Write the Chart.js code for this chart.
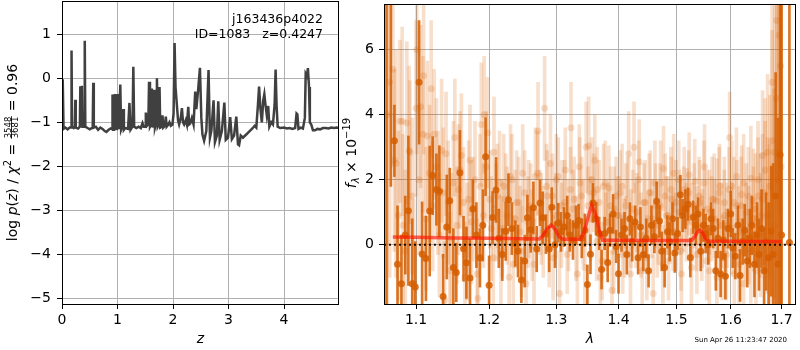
<!DOCTYPE html>
<html>
<head>
<meta charset="utf-8">
<script src="https://cdn.jsdelivr.net/npm/chart.js@4.4.0/dist/chart.umd.min.js"></script>
<style>
  body { margin: 0; background: #fff; }
  #wrap { position: relative; width: 800px; height: 350px; }
  #pz { position: absolute; left: 0; top: 0; }
  #spec { position: absolute; left: 340px; top: 0; }
</style>
</head>
<body>
<div id="wrap">
  <canvas id="pz" width="340" height="350"></canvas>
  <canvas id="spec" width="460" height="350"></canvas>
</div>
<script>
// ---- left panel: log p(z) ----
const zGrid = [
  0.000, 0.008, 0.018, 0.028, 0.060, 0.100, 0.140, 0.163, 0.172, 0.181,
  0.210, 0.232, 0.240, 0.248, 0.290, 0.322, 0.330, 0.345, 0.358, 0.368,
  0.400, 0.410, 0.420, 0.460, 0.500, 0.553, 0.563, 0.573, 0.610, 0.650,
  0.690, 0.730, 0.770, 0.800, 0.840, 0.880, 0.902, 0.910, 0.920, 0.935,
  0.945, 0.960, 0.975, 0.990, 1.000, 1.015, 1.030, 1.050, 1.065, 1.085,
  1.100, 1.115, 1.140, 1.190, 1.215, 1.235, 1.270, 1.285, 1.300, 1.340,
  1.380, 1.420, 1.450, 1.470, 1.500, 1.510, 1.530, 1.555, 1.568, 1.585,
  1.605, 1.618, 1.632, 1.645, 1.660, 1.675, 1.700, 1.710, 1.725, 1.745,
  1.757, 1.770, 1.800, 1.810, 1.825, 1.855, 1.870, 1.885, 1.915, 1.935,
  1.960, 1.990, 2.010, 2.028, 2.045, 2.060, 2.090, 2.110, 2.140, 2.160,
  2.180, 2.200, 2.230, 2.250, 2.275, 2.290, 2.310, 2.340, 2.370, 2.400,
  2.420, 2.450, 2.485, 2.510, 2.530, 2.560, 2.600, 2.640, 2.665, 2.690,
  2.730, 2.755, 2.790, 2.815, 2.840, 2.880, 2.925, 2.950, 2.990, 3.030,
  3.060, 3.100, 3.140, 3.170, 3.190, 3.220, 3.260, 3.300, 3.340, 3.380,
  3.430, 3.470, 3.500, 3.530, 3.550, 3.575, 3.600, 3.625, 3.645, 3.665,
  3.690, 3.715, 3.735, 3.770, 3.800, 3.830, 3.848, 3.865, 3.885, 3.930,
  4.000, 4.050, 4.100, 4.150, 4.200, 4.225, 4.240, 4.260, 4.300, 4.340,
  4.375, 4.390, 4.410, 4.430, 4.450, 4.465, 4.490, 4.520, 4.560, 4.600,
  4.650, 4.700, 4.750, 4.800, 4.850, 4.900, 4.950, 4.990
];
const logPz = [
  -0.62, -1.18, -0.02, -1.15, -1.12, -1.16, -1.12, -1.12, 0.63, -1.10,
  -1.13, -1.10, -0.49, -1.12, -1.14, -1.10, -0.18, -0.55, -0.17, -1.10,
  -1.10, 0.855, -1.10, -1.13, -1.16, -1.12, -0.10, -1.12, -1.10, -1.17,
  -1.12, -1.15, -1.20, -1.22, -1.17, -1.14, -1.15, -0.37, -1.17, -0.36,
  -1.10, -0.36, -1.15, -0.36, -1.10, -0.36, -1.16, -0.14, -1.17, -1.10,
  -0.70, -1.17, -1.13, -1.15, -0.56, -1.17, -1.10, 0.26, -1.10, -1.13,
  -1.10, -1.13, -1.02, -1.10, -1.10, -0.78, -1.08, -1.05, -0.08, -1.10,
  -1.05, -0.23, -1.12, -0.85, -0.26, -1.12, -1.00, 0.00, -1.10, -1.05,
  -0.20, -1.12, -1.10, -0.84, -1.12, -1.08, -0.87, -1.10, -1.05, -1.00,
  -1.08, -1.05, -0.80, 0.80, -0.20, -0.45, -0.95, -1.05, -0.90, -0.68,
  -1.00, -1.05, -0.95, -1.05, -0.65, -1.05, -1.03, -0.90, -1.05, -0.30,
  -0.70, -0.30, 0.24, -0.90, -1.28, -1.42, -1.20, 0.19, -1.35, -1.20,
  -0.50, -1.45, -1.30, -0.52, -1.40, -1.20, -0.55, -1.40, -1.35, -0.88,
  -1.38, -1.30, -0.87, -1.50, -1.52, -1.30, -1.35, -1.30, -1.25, -1.20,
  -1.14, -1.08, -1.12, -0.60, -0.19, -0.70, -1.00, -0.50, -0.36, -0.60,
  -0.85, -0.63, -1.10, -1.00, -1.05, -0.60, 0.20, -0.60, -1.10, -1.13,
  -1.12, -1.14, -1.13, -1.15, -1.13, -0.80, -0.82, -1.15, -1.12, -1.14,
  -0.90, 0.10, 0.05, 0.23, -0.20, -1.00, -1.05, -1.18, -1.18, -1.15,
  -1.16, -1.13, -1.13, -1.14, -1.12, -1.13, -1.12, -1.13
];
const zTicks = [0, 1, 2, 3, 4];
const logPTicks = [-5, -4, -3, -2, -1, 0, 1];

// ---- right panel: spectrum ----
// combined spectrum (dark)
const darkLam = [
  1.062, 1.0675, 1.072, 1.076, 1.081, 1.086, 1.090, 1.095, 1.099, 1.104, 1.108, 1.113, 1.118,
  1.122, 1.127, 1.131, 1.136, 1.141, 1.145, 1.150, 1.154, 1.159, 1.164, 1.168,
  1.173, 1.177, 1.182, 1.187, 1.191, 1.195, 1.200, 1.205, 1.210, 1.214, 1.219,
  1.224, 1.228, 1.233, 1.238, 1.242, 1.247, 1.252, 1.256, 1.261, 1.265, 1.270,
  1.275, 1.279, 1.284, 1.289, 1.293, 1.298, 1.303, 1.307, 1.312, 1.317, 1.321,
  1.326, 1.331, 1.335, 1.340, 1.345, 1.349, 1.354, 1.358, 1.363, 1.368, 1.372,
  1.377, 1.382, 1.386, 1.391, 1.396, 1.400, 1.405, 1.410, 1.414, 1.419, 1.423,
  1.428, 1.433, 1.437, 1.442, 1.447, 1.451, 1.456, 1.461, 1.465, 1.470, 1.474,
  1.479, 1.484, 1.488, 1.493, 1.497, 1.502, 1.507, 1.511, 1.516, 1.521, 1.525,
  1.530, 1.535, 1.539, 1.544, 1.549, 1.553, 1.558, 1.563, 1.567, 1.572, 1.576,
  1.581, 1.586, 1.590, 1.595, 1.600, 1.604, 1.609, 1.614, 1.618, 1.623, 1.627,
  1.632, 1.637, 1.641, 1.646, 1.651, 1.655, 1.660, 1.665, 1.669, 1.674, 1.679,
  1.683, 1.688, 1.693, 1.697, 1.700, 1.716
];
const darkFlux = [
  8.0, 9.0, 3.2, -0.6, -1.2, 0.3, 1.05, -1.2, -1.3, 5.0, -0.28, -0.42, 1.04,
  2.13, 1.7, 1.65, -1.59, 0.55, 1.36, -0.7, -0.85, 2.22, -0.12, -0.55,
  -1.02, 1.1, 0.3, -0.4, 0.6, 2.71, -1.24, 0.84, 1.69, 0.2, -0.3,
  0.42, 1.39, 0.5, 0.04, -0.19, -1.08, -0.5, 0.83, 0.47, 1.14, -0.13,
  1.29, 0.83, 0.33, -0.13, 1.16, 0.0, 0.68, 0.4, 0.55, 0.9, 0.3,
  0.15, 0.6, 0.75, 0.2, 0.45, -1.22, -0.29, 1.29, 0.8, 0.35, -0.76,
  0.35, -0.54, 0.45, 0.95, -0.05, -0.89, 0.3, 0.5, -0.3, 0.8, 0.1,
  0.7, -0.4, 0.55, -0.3, 0.2, -0.8, 0.6, 0.25, 1.34, 0.73, -0.2,
  -0.7, 0.4, 0.1, 0.8, -0.25, 0.35, 1.54, 0.9, 1.1, 1.25, -0.39,
  0.85, 0.6, 0.95, -0.2, 0.6, 0.35, 0.0, 0.8, 0.5, -0.8, 0.2,
  -0.9, 0.15, -0.97, 0.5, 0.95, -0.1, -0.35, 0.6, -0.94, 0.1, 0.45,
  -0.5, 0.2, 0.6, -0.6, 0.3, -0.3, 0.5, -0.8, 0.1, -0.4, 0.42,
  -0.3, 1.5, -0.6, 2.77, 0.3, 0.07
];
const darkErr = [
  12, 7.2, 1.1, 1.8, 1.5, 1.2, 2.3, 2.0, 1.4, 1.9, 1.6, 1.3, 2.0,
  1.2, 1.1, 1.4, 1.3, 1.6, 1.0, 1.2, 0.9, 1.3, 1.0, 1.1,
  1.2, 0.9, 1.0, 0.9, 1.1, 1.2, 0.9, 0.8, 1.0, 0.9, 0.8,
  0.9, 0.8, 0.8, 0.7, 0.8, 0.7, 0.8, 0.7, 0.7, 0.8, 0.7,
  0.7, 0.8, 0.6, 0.7, 0.6, 0.7, 0.6, 0.6, 0.6, 0.6, 0.5,
  0.6, 0.6, 0.5, 0.6, 0.5, 0.6, 0.6, 0.6, 0.5, 0.5, 0.6,
  0.5, 0.6, 0.5, 0.6, 0.5, 0.6, 0.5, 0.5, 0.6, 0.5, 0.6,
  0.5, 0.5, 0.6, 0.5, 0.6, 0.5, 0.6, 0.5, 0.6, 0.5, 0.6,
  0.6, 0.5, 0.6, 0.5, 0.6, 0.5, 0.6, 0.5, 0.6, 0.5, 0.6,
  0.5, 0.6, 0.5, 0.6, 0.5, 0.6, 0.6, 0.5, 0.6, 0.6, 0.6,
  0.7, 0.6, 0.7, 0.6, 0.7, 0.6, 0.7, 0.6, 0.8, 0.7, 0.8,
  0.8, 0.9, 0.9, 1.0, 1.0, 1.1, 1.2, 1.3, 1.5, 1.7, 2.0,
  2.8, 3.8, 4.5, 9, 12, 15
];

// first individual beam (light)
const lightLam = [
  1.063, 1.066, 1.070, 1.074, 1.079, 1.083, 1.088, 1.092, 1.097, 1.101, 1.106, 1.110, 1.115,
  1.120, 1.124, 1.129, 1.134, 1.138, 1.143, 1.147, 1.152, 1.157, 1.161, 1.166,
  1.171, 1.175, 1.180, 1.184, 1.189, 1.193, 1.198, 1.203, 1.207, 1.212, 1.217,
  1.221, 1.226, 1.231, 1.235, 1.240, 1.245, 1.249, 1.254, 1.258, 1.263, 1.268,
  1.272, 1.277, 1.282, 1.286, 1.291, 1.295, 1.300, 1.305, 1.309, 1.314, 1.319,
  1.323, 1.328, 1.333, 1.337, 1.342, 1.347, 1.351, 1.356, 1.361, 1.365, 1.370,
  1.375, 1.379, 1.384, 1.389, 1.393, 1.398, 1.403, 1.407, 1.412, 1.417, 1.421,
  1.426, 1.431, 1.435, 1.440, 1.445, 1.449, 1.454, 1.459, 1.463, 1.468, 1.472,
  1.477, 1.482, 1.486, 1.491, 1.495, 1.500, 1.505, 1.509, 1.514, 1.519, 1.523,
  1.528, 1.533, 1.537, 1.542, 1.547, 1.551, 1.556, 1.560, 1.565, 1.570, 1.574,
  1.579, 1.584, 1.588, 1.593, 1.598, 1.602, 1.607, 1.612, 1.616, 1.621, 1.625,
  1.630, 1.635, 1.639, 1.644, 1.649, 1.653, 1.658, 1.662, 1.667, 1.672, 1.676,
  1.681, 1.686, 1.690, 1.695, 1.699
];
const lightFlux = [
  4.0, 5.0, 5.4, 2.5, 3.8, 0.6, 3.75, 2.85, -1.2, 6.0, 4.25, 5.2, 3.35,
  4.8, 3.4, 1.6, 2.9, -1.7, 1.3, 0.2, 3.3, 1.7, 2.75, -1.0,
  1.4, 0.7, 2.0, -1.65, 3.7, 4.0, 3.45, 0.5, 2.85, 1.5, -0.2,
  1.8, 0.9, 2.1, -0.6, 1.3, 0.4, 2.2, -1.2, 1.1, 0.3, 2.1,
  3.5, 0.8, 4.2, 1.5, 2.5, -0.4, 2.0, -1.5, 1.2, 2.3, 0.6,
  3.6, 1.4, -0.9, 1.9, 0.7, 3.0, 3.05, 2.0, 2.6, 1.7, -1.0,
  1.8, 0.4, 1.75, -1.4, 1.1, 0.9, 1.6, -0.3, 1.2, 2.8, 0.5,
  3.0, 1.0, 2.55, -0.8, 1.3, 0.3, 1.6, -1.5, 1.2, 0.6, 1.9,
  2.35, 0.9, -0.5, 1.4, 2.2, 0.4, 1.0, -0.9, 1.7, 1.15, 2.15,
  0.7, 1.95, -0.3, 1.3, 0.5, 2.4, 1.1, -0.8, 1.4, 0.8, 1.35,
  1.8, -0.4, 1.3, 0.6, 3.3, 1.8, -0.9, 1.2, 0.4, 1.55, -1.2,
  1.0, 0.3, 2.05, 1.35, -0.8, 1.5, 0.9, 2.75, 1.6, 2.85, 0.3,
  5.0, 2.85, 6.9, 6.45, 2.4
];
const lightErr = [
  8, 6, 3.0, 3.5, 2.5, 2.8, 2.5, 2.2, 2.6, 3.2, 2.5, 2.4, 2.3,
  2.1, 2.0, 1.9, 2.2, 1.8, 1.9, 2.0, 1.8, 2.0, 1.9, 1.7,
  1.8, 1.9, 1.8, 1.6, 1.9, 1.8, 1.7, 1.6, 1.7, 1.6, 1.7,
  1.6, 1.5, 1.6, 1.5, 1.6, 1.4, 1.5, 1.4, 1.5, 1.4, 1.5,
  1.5, 1.4, 1.6, 1.4, 1.5, 1.3, 1.4, 1.3, 1.4, 1.3, 1.4,
  1.4, 1.3, 1.3, 1.4, 1.3, 1.4, 1.5, 1.3, 1.4, 1.3, 1.3,
  1.3, 1.2, 1.3, 1.2, 1.3, 1.2, 1.3, 1.2, 1.3, 1.3, 1.2,
  1.4, 1.2, 1.3, 1.2, 1.3, 1.2, 1.3, 1.2, 1.3, 1.2, 1.3,
  1.3, 1.2, 1.2, 1.3, 1.2, 1.2, 1.3, 1.2, 1.3, 1.2, 1.3,
  1.2, 1.3, 1.2, 1.3, 1.2, 1.3, 1.2, 1.3, 1.3, 1.2, 1.3,
  1.3, 1.3, 1.4, 1.3, 1.4, 1.4, 1.3, 1.4, 1.4, 1.5, 1.4,
  1.5, 1.5, 1.6, 1.6, 1.7, 1.8, 1.9, 2.0, 2.2, 2.4, 2.8,
  3.5, 4.5, 5.0, 5.5, 6.0
];

// second individual beam (light)
const light2Lam = [
  1.072, 1.077, 1.082, 1.086, 1.091, 1.095, 1.100, 1.104, 1.109, 1.113,
  1.118, 1.122, 1.127, 1.131, 1.136, 1.140, 1.145, 1.150, 1.155, 1.159,
  1.164, 1.169, 1.173, 1.178, 1.183, 1.187, 1.192, 1.196, 1.201, 1.206,
  1.210, 1.215, 1.219, 1.224, 1.229, 1.233, 1.238, 1.243, 1.247, 1.252,
  1.257, 1.261, 1.266, 1.271, 1.275, 1.280, 1.285, 1.289, 1.294, 1.299,
  1.303, 1.308, 1.313, 1.317, 1.322, 1.326, 1.331, 1.336, 1.340, 1.345,
  1.350, 1.354, 1.359, 1.364, 1.368, 1.373, 1.378, 1.382, 1.387, 1.392,
  1.396, 1.401, 1.406, 1.410, 1.415, 1.420, 1.424, 1.429, 1.434, 1.438,
  1.443, 1.448, 1.452, 1.457, 1.462, 1.466, 1.471, 1.476, 1.480, 1.485,
  1.490, 1.494, 1.499, 1.504, 1.508, 1.513, 1.518, 1.522, 1.527, 1.532,
  1.536, 1.541, 1.546, 1.550, 1.555, 1.560, 1.564, 1.569, 1.574, 1.578,
  1.583, 1.588, 1.592, 1.597, 1.602, 1.606, 1.611, 1.616, 1.620, 1.625,
  1.630, 1.634, 1.639, 1.644, 1.648, 1.653, 1.658, 1.662, 1.667, 1.672,
  1.676, 1.681, 1.685, 1.690, 1.694, 1.698
];
const light2Flux = [
  2.6, 0.9, 3.8, -0.2, 2.9, 1.5, 4.2, 2.0, 3.4, 0.8,
  2.2, 1.2, 2.4, 0.3, 1.6, 2.8, -0.8, 1.9, 0.6, 2.3,
  1.3, 0.1, 2.6, 1.1, -0.9, 1.8, 0.9, 2.4, 1.4, -0.4,
  1.0, 1.9, 0.5, 1.4, -1.0, 2.0, 0.8, 1.3, -0.2, 1.6,
  0.7, 1.2, -0.6, 2.2, 1.0, 0.4, 1.8, -0.1, 1.5, 0.9,
  2.1, 0.6, 1.3, -0.3, 1.7, 1.1, 0.2, 2.4, 1.5, -0.7,
  1.2, 0.8, 1.6, 0.1, 1.3, -0.5, 1.9, 0.7, 1.2, -0.2,
  1.5, 0.9, 1.8, 0.2, 1.4, -0.9, 1.1, 0.6, 2.0, 0.3,
  1.3, -0.4, 1.6, 0.8, 1.9, 0.2, 1.2, -0.6, 1.5, 0.9,
  1.7, 0.4, 1.3, 2.0, -0.2, 1.1, 0.7, 1.6, -0.7, 1.2,
  0.5, 1.5, 0.2, 1.9, -0.5, 1.0, 0.8, 1.4, -1.0, 1.6,
  0.6, 0.9, -0.3, 1.7, 0.5, 1.3, 2.1, -0.6, 1.2, 1.9,
  0.4, 1.5, -0.2, 0.8, 1.1, 2.0, 0.3, 1.4, 2.3, 0.9,
  1.8, 3.2, 0.6, 4.5, 2.0, 5.5
];
const light2Err = [
  2.8, 2.6, 2.9, 2.5, 2.6, 2.4, 2.7, 2.3, 2.4, 2.2,
  2.1, 2.0, 2.1, 1.9, 2.0, 1.9, 1.8, 1.9, 1.8, 1.8,
  1.7, 1.8, 1.7, 1.6, 1.7, 1.6, 1.6, 1.7, 1.5, 1.6,
  1.5, 1.6, 1.5, 1.4, 1.5, 1.4, 1.5, 1.4, 1.4, 1.3,
  1.4, 1.3, 1.4, 1.3, 1.3, 1.4, 1.3, 1.2, 1.3, 1.3,
  1.2, 1.3, 1.3, 1.2, 1.3, 1.2, 1.3, 1.3, 1.2, 1.3,
  1.2, 1.3, 1.2, 1.2, 1.3, 1.2, 1.3, 1.2, 1.2, 1.3,
  1.2, 1.2, 1.3, 1.2, 1.3, 1.2, 1.2, 1.3, 1.2, 1.3,
  1.2, 1.3, 1.2, 1.2, 1.3, 1.2, 1.3, 1.2, 1.3, 1.2,
  1.3, 1.2, 1.3, 1.2, 1.2, 1.3, 1.2, 1.3, 1.2, 1.3,
  1.3, 1.2, 1.3, 1.3, 1.2, 1.3, 1.3, 1.4, 1.3, 1.4,
  1.3, 1.4, 1.4, 1.3, 1.4, 1.4, 1.5, 1.4, 1.5, 1.5,
  1.5, 1.5, 1.6, 1.6, 1.7, 1.8, 1.9, 2.0, 2.2, 2.4,
  2.8, 3.4, 4.2, 5.0, 5.5, 6.0
];

// best-fit model
const modelLam = [
  1.070, 1.100, 1.150, 1.200, 1.250, 1.274, 1.280, 1.286, 1.292, 1.298, 1.304, 1.310,
  1.338, 1.344, 1.350, 1.356, 1.362, 1.368, 1.374, 1.400, 1.450, 1.500,
  1.527, 1.533, 1.538, 1.543, 1.548, 1.553, 1.558, 1.600, 1.650, 1.700
];
const modelFlux = [
  0.24, 0.23, 0.21, 0.20, 0.19, 0.18, 0.30, 0.50, 0.61, 0.48, 0.26, 0.17,
  0.17, 0.40, 0.85, 1.22, 0.95, 0.45, 0.14, 0.14, 0.13, 0.13,
  0.13, 0.25, 0.40, 0.45, 0.35, 0.18, 0.11, 0.11, 0.10, 0.10
];
const lamTicks = [1.1, 1.2, 1.3, 1.4, 1.5, 1.6, 1.7];
const fluxTicks = [0, 2, 4, 6];
const lamRange = [1.0588, 1.7295];
const fluxRange = [-1.82, 7.41];
const zRange = [0, 4.99];
const logPRange = [-5.13, 1.757];

Chart.defaults.font.family = 'DejaVu Sans';
Chart.defaults.color = '#000';

const FONT = 'DejaVu Sans';
const G141 = 'rgba(213, 94, 0, 0.85)';
const G141_LIGHT = 'rgba(213, 94, 0, 0.2)';
const minus = v => String(v).replace('-', '\u2212');

// black frame round the axes, like matplotlib spines
const frame = {
  id: 'frame',
  afterDraw(chart) {
    const { ctx, chartArea: a } = chart;
    const x0 = Math.floor(a.left) + 0.5, y0 = Math.floor(a.top) + 0.5;
    const x1 = Math.ceil(a.right) - 0.5, y1 = Math.floor(a.bottom) + 0.5;
    ctx.save();
    ctx.strokeStyle = '#000';
    ctx.lineWidth = 1;
    ctx.strokeRect(x0, y0, x1 - x0, y1 - y0);
    ctx.restore();
  }
};

// draw a rotated label from pieces (sub/superscripts, a stacked fraction)
function drawVerticalLabel(ctx, cx, cy, parts) {
  ctx.save();
  ctx.translate(cx, cy);
  ctx.rotate(-Math.PI / 2);
  let total = 0;
  parts.forEach(p => {
    ctx.font = p.font;
    if (p.num) {
      p.w = Math.max(ctx.measureText(p.num).width, ctx.measureText(p.den).width) + 2;
    } else {
      p.w = ctx.measureText(p.text).width;
    }
    total += p.w;
  });
  let x = -total / 2;
  const base = 5;
  ctx.fillStyle = '#000';
  ctx.textBaseline = 'alphabetic';
  parts.forEach(p => {
    ctx.font = p.font;
    if (p.num) {
      ctx.textAlign = 'center';
      ctx.fillText(p.num, x + p.w / 2, base - 6.5);
      ctx.fillText(p.den, x + p.w / 2, base + 0.5);
      ctx.fillRect(x + 0.5, base - 5.8, p.w - 1, 0.8);
      ctx.textAlign = 'left';
    } else {
      ctx.textAlign = 'left';
      ctx.fillText(p.text, x, base + (p.shift || 0));
    }
    x += p.w;
  });
  ctx.restore();
}

const N14 = `14px "${FONT}"`;
const I14 = `italic 14px "${FONT}"`;
const S10 = `10px "${FONT}"`;
const I10 = `italic 10px "${FONT}"`;

const leftDecor = {
  id: 'leftDecor',
  afterDraw(chart) {
    const ctx = chart.ctx;
    drawVerticalLabel(ctx, 12, 152.5, [
      { text: 'log ', font: N14 },
      { text: 'p', font: I14 },
      { text: '(', font: N14 },
      { text: 'z', font: I14 },
      { text: ') / ', font: N14 },
      { text: '\u03c7', font: I14 },
      { text: '2', font: S10, shift: -6 },
      { text: ' = ', font: N14 },
      { num: '3548', den: '3681', font: `8.5px "${FONT}"` },
      { text: ' = 0.96', font: N14 }
    ]);
    ctx.save();
    ctx.font = `12.5px "${FONT}"`;
    ctx.fillStyle = '#000';
    ctx.textAlign = 'right';
    ctx.textBaseline = 'middle';
    ctx.fillText('j163436p4022', 323, 20);
    ctx.fillText('ID=1083   z=0.4247', 323, 34.5);
    ctx.restore();
  }
};

const rightDecor = {
  id: 'rightDecor',
  afterDraw(chart) {
    const ctx = chart.ctx;
    drawVerticalLabel(ctx, 11, 153, [
      { text: 'f', font: I14 },
      { text: '\u03bb', font: I10, shift: 3 },
      { text: ' \u00d7 10', font: N14 },
      { text: '\u221219', font: S10, shift: -6 }
    ]);
    ctx.save();
    ctx.font = `7px "${FONT}"`;
    ctx.fillStyle = '#000';
    ctx.textAlign = 'right';
    ctx.textBaseline = 'middle';
    ctx.fillText('Sun Apr 26 11:23:47 2020', 447, 340);
    ctx.restore();
  }
};

const gridOpts = { color: '#b0b0b0', lineWidth: 1, tickColor: '#000', tickLength: 5, tickWidth: 1 };
const tickFont = { family: FONT, size: 14 };

const errBars = (lam, flux, err) => lam.map((l, i) => ({ x: l, y: [flux[i] - err[i], flux[i] + err[i]] }));
const pts = (xs, ys) => xs.map((x, i) => ({ x, y: ys[i] }));

// left chart
new Chart(document.getElementById('pz'), {
  type: 'scatter',
  data: {
    datasets: [{
      data: pts(zGrid, logPz),
      showLine: true,
      borderColor: '#404040',
      borderWidth: 2.5,
      pointRadius: 0,
      tension: 0
    }]
  },
  options: {
    responsive: false,
    animation: false,
    events: [],
    layout: { padding: { top: 1, right: 1, left: 0, bottom: 0 } },
    plugins: { legend: { display: false }, tooltip: { enabled: false } },
    scales: {
      x: {
        type: 'linear', min: zRange[0], max: zRange[1],
        afterBuildTicks: s => { s.ticks = zTicks.map(v => ({ value: v })); },
        afterFit: s => { s.height = 46; s.paddingLeft = 0; s.paddingRight = 0; },
        grid: gridOpts, border: { display: false },
        ticks: { font: tickFont, padding: 3, maxRotation: 0, callback: v => minus(v) },
        title: { display: true, text: 'z', font: { family: FONT, size: 14, style: 'italic', lineHeight: 1.2 }, padding: { top: 0, bottom: 2 } }
      },
      y: {
        type: 'linear', min: logPRange[0], max: logPRange[1],
        afterBuildTicks: s => { s.ticks = logPTicks.map(v => ({ value: v })); },
        afterFit: s => { s.width = 62; s.paddingTop = 0; s.paddingBottom = 0; },
        grid: gridOpts, border: { display: false },
        ticks: { font: tickFont, padding: 6, callback: v => minus(v) }
      }
    }
  },
  plugins: [frame, leftDecor]
});

// right chart
new Chart(document.getElementById('spec'), {
  type: 'scatter',
  data: {
    datasets: [
      {
        data: lamRange.map(l => ({ x: l, y: 0 })),
        showLine: true, borderColor: 'rgba(0,0,0,0.9)', borderWidth: 2, borderDash: [2, 3],
        pointRadius: 0, order: 0
      },
      {
        data: pts(modelLam, modelFlux),
        showLine: true, borderColor: 'rgba(255, 20, 0, 0.65)', borderWidth: 3.5,
        pointRadius: 0, tension: 0, order: 1
      },
      {
        data: pts(darkLam, darkFlux),
        pointRadius: 3.5, pointBorderWidth: 0, backgroundColor: G141, borderColor: G141, order: 2
      },
      {
        type: 'bar', data: errBars(darkLam, darkFlux, darkErr),
        backgroundColor: G141, barThickness: 2, grouped: false, borderWidth: 0, order: 3
      },
      {
        data: pts(lightLam, lightFlux),
        pointRadius: 3.5, pointBorderWidth: 0, backgroundColor: G141_LIGHT, borderColor: G141_LIGHT, order: 4
      },
      {
        data: pts(light2Lam, light2Flux),
        pointRadius: 3.5, pointBorderWidth: 0, backgroundColor: G141_LIGHT, borderColor: G141_LIGHT, order: 5
      },
      {
        type: 'bar', data: errBars(lightLam, lightFlux, lightErr),
        backgroundColor: G141_LIGHT, barThickness: 3, grouped: false, borderWidth: 0, order: 6
      },
      {
        type: 'bar', data: errBars(light2Lam, light2Flux, light2Err),
        backgroundColor: G141_LIGHT, barThickness: 3, grouped: false, borderWidth: 0, order: 7
      }
    ]
  },
  options: {
    responsive: false,
    animation: false,
    events: [],
    layout: { padding: { top: 1, right: 1, left: 0, bottom: 0 } },
    plugins: { legend: { display: false }, tooltip: { enabled: false } },
    scales: {
      x: {
        type: 'logarithmic', min: lamRange[0], max: lamRange[1], offset: false,
        afterBuildTicks: s => { s.ticks = lamTicks.map(v => ({ value: v })); },
        afterFit: s => { s.height = 46; s.paddingLeft = 0; s.paddingRight = 0; },
        grid: Object.assign({ offset: false }, gridOpts), border: { display: false },
        ticks: { font: tickFont, padding: 3, maxRotation: 0, autoSkip: false, callback: v => Number(v).toFixed(1) },
        title: { display: true, text: '\u03bb', font: { family: FONT, size: 14, style: 'italic', lineHeight: 1.2 }, padding: { top: 0, bottom: 2 } }
      },
      y: {
        type: 'linear', min: fluxRange[0], max: fluxRange[1],
        afterBuildTicks: s => { s.ticks = fluxTicks.map(v => ({ value: v })); },
        afterFit: s => { s.width = 44; s.paddingTop = 0; s.paddingBottom = 0; },
        grid: gridOpts, border: { display: false },
        ticks: { font: tickFont, padding: 5, callback: v => minus(v) }
      }
    }
  },
  plugins: [frame, rightDecor]
});
</script>
</body>
</html>
